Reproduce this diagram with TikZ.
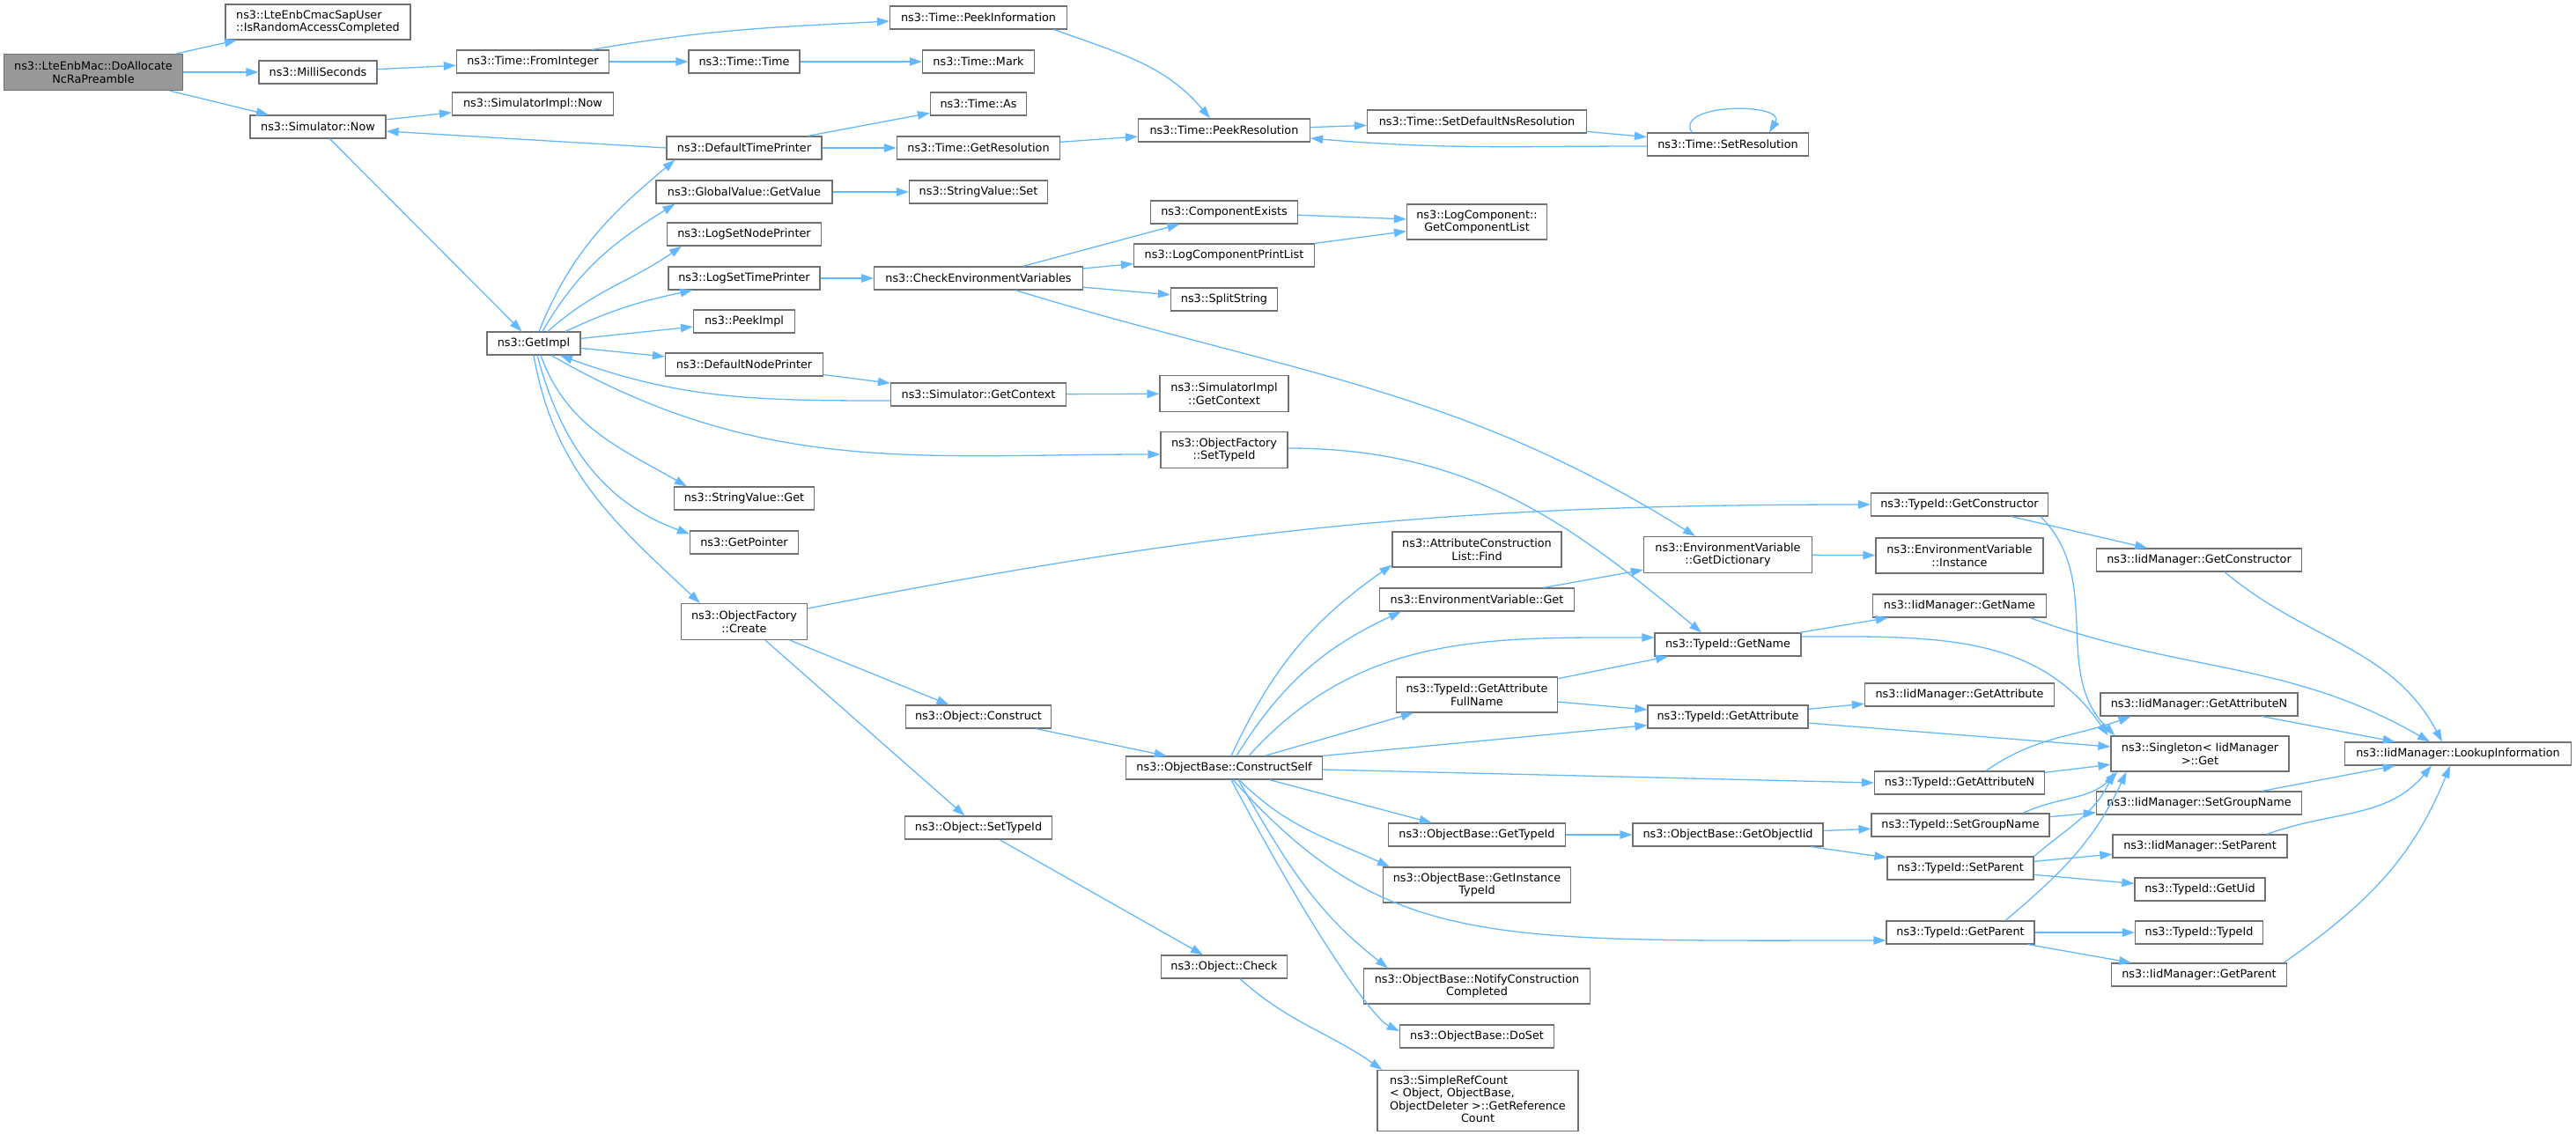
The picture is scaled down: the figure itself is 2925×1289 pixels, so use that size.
\documentclass[tikz,border=0pt]{standalone}
\usepackage{fontspec}
\setmainfont{DejaVu Sans}
\usetikzlibrary{arrows.meta,topaths}
\definecolor{edgeblue}{HTML}{63B8FF}
\definecolor{boxline}{HTML}{707070}
\definecolor{rootfill}{HTML}{999999}
\begin{document}
\begin{tikzpicture}[x=1pt, y=-1pt, font=\fontsize{12.8}{14.5}\selectfont,
    func/.style={draw=boxline, fill=white, line width=1.2pt, rectangle, align=center,
        inner xsep=6pt, inner ysep=2pt, minimum height=26, minimum width=#1},
    rootfunc/.style={func=#1, fill=rootfill},
    call/.style={draw=edgeblue, line width=1.3pt, -{Triangle[length=14pt,width=9.5pt]}}]
    \useasboundingbox (0,0) rectangle (2925,1289);

    % first columns
    \node[rootfunc=203, minimum height=41] (root) at (106,82) {ns3::LteEnbMac::DoAllocate\\NcRaPreamble};
    \node[func=210, minimum height=40, align=left] (israc) at (361,25) {ns3::LteEnbCmacSapUser\\::IsRandomAccessCompleted};
    \node[func=134] (milli) at (361,82) {ns3::MilliSeconds};
    \node[func=154] (simnow) at (361,144) {ns3::Simulator::Now};
    \node[func=173] (fromint) at (605,70) {ns3::Time::FromInteger};
    \node[func=183] (simimplnow) at (605,118) {ns3::SimulatorImpl::Now};
    \node[func=106] (getimpl) at (606,390) {ns3::GetImpl};

    % callees of GetImpl
    \node[func=126] (timetime) at (845,70) {ns3::Time::Time};
    \node[func=176] (deftp) at (845,168) {ns3::DefaultTimePrinter};
    \node[func=200] (gvget) at (845,218) {ns3::GlobalValue::GetValue};
    \node[func=175] (lsnp) at (845,266) {ns3::LogSetNodePrinter};
    \node[func=172] (lstp) at (845,316) {ns3::LogSetTimePrinter};
    \node[func=115] (peekimpl) at (845,365) {ns3::PeekImpl};
    \node[func=179] (defnp) at (845,414) {ns3::DefaultNodePrinter};
    \node[func=159] (svget) at (845,566) {ns3::StringValue::Get};
    \node[func=123] (getptr) at (845,616) {ns3::GetPointer};
    \node[func=143, minimum height=41] (ofcreate) at (845,706) {ns3::ObjectFactory\\::Create};

    \node[func=201] (peekinfo) at (1111,20) {ns3::Time::PeekInformation};
    \node[func=127] (timemark) at (1111,70) {ns3::Time::Mark};
    \node[func=109] (timeas) at (1111,118) {ns3::Time::As};
    \node[func=185] (getres) at (1111,168) {ns3::Time::GetResolution};
    \node[func=157] (svset) at (1111,218) {ns3::StringValue::Set};
    \node[func=237] (checkenv) at (1111,316) {ns3::CheckEnvironmentVariables};
    \node[func=199] (simgetctx) at (1111,448) {ns3::Simulator::GetContext};
    \node[func=165] (objconstruct) at (1111,814) {ns3::Object::Construct};
    \node[func=167] (objsettid) at (1111,940) {ns3::Object::SetTypeId};

    \node[func=195] (peekres) at (1390,148) {ns3::Time::PeekResolution};
    \node[func=167] (compexists) at (1390,241) {ns3::ComponentExists};
    \node[func=205] (lcpl) at (1390,290) {ns3::LogComponentPrintList};
    \node[func=121] (splitstr) at (1390,340) {ns3::SplitString};
    \node[func=146, minimum height=41] (simimplctx) at (1390,447) {ns3::SimulatorImpl\\::GetContext};
    \node[func=144, minimum height=41] (ofsettid) at (1390,511) {ns3::ObjectFactory\\::SetTypeId};
    \node[func=223] (constructself) at (1390,872) {ns3::ObjectBase::ConstructSelf};
    \node[func=143] (objcheck) at (1390,1098) {ns3::Object::Check};

    % ConstructSelf and friends
    \node[func=249] (setdefns) at (1677,138) {ns3::Time::SetDefaultNsResolution};
    \node[func=159, minimum height=40] (getcomplist) at (1677,252) {ns3::LogComponent::\\GetComponentList};
    \node[func=192, minimum height=40] (acfind) at (1677,624) {ns3::AttributeConstruction\\List::Find};
    \node[func=221] (evget) at (1677,681) {ns3::EnvironmentVariable::Get};
    \node[func=183, minimum height=40] (tidgafn) at (1677,789) {ns3::TypeId::GetAttribute\\FullName};
    \node[func=201] (obgettid) at (1677,948) {ns3::ObjectBase::GetTypeId};
    \node[func=213, minimum height=40] (obgetinst) at (1677,1005) {ns3::ObjectBase::GetInstance\\TypeId};
    \node[func=257, minimum height=40] (notify) at (1677,1120) {ns3::ObjectBase::NotifyConstruction\\Completed};
    \node[func=175] (doset) at (1677,1177) {ns3::ObjectBase::DoSet};
    \node[func=228, minimum height=69] (simpleref) at (1678,1250) {\begin{tabular}{@{}l@{}}ns3::SimpleRefCount\\< Object, ObjectBase,\\ ObjectDeleter >::GetReference\\\multicolumn{1}{@{}c@{}}{Count}\end{tabular}};

    \node[func=183] (setres) at (1962,164) {ns3::Time::SetResolution};
    \node[func=191, minimum height=41] (evgetdict) at (1962,630) {ns3::EnvironmentVariable\\::GetDictionary};
    \node[func=166] (tidgetname) at (1962,732) {ns3::TypeId::GetName};
    \node[func=182] (tidgetattr) at (1962,814) {ns3::TypeId::GetAttribute};
    \node[func=216] (obgetiid) at (1962,948) {ns3::ObjectBase::GetObjectIid};

    % TypeId and IidManager
    \node[func=201] (tidgetctor) at (2225,573) {ns3::TypeId::GetConstructor};
    \node[func=190, minimum height=40] (evinst) at (2225,631) {ns3::EnvironmentVariable\\::Instance};
    \node[func=197] (iidgetname) at (2225,688) {ns3::IidManager::GetName};
    \node[func=215] (iidgetattr) at (2225,789) {ns3::IidManager::GetAttribute};
    \node[func=193] (tidgetattrn) at (2225,889) {ns3::TypeId::GetAttributeN};
    \node[func=202] (tidsetgroup) at (2226,937) {ns3::TypeId::SetGroupName};
    \node[func=166] (tidsetparent) at (2226,986) {ns3::TypeId::SetParent};
    \node[func=168] (tidgetparent) at (2226,1059) {ns3::TypeId::GetParent};

    \node[func=233] (iidgetctor) at (2497,636) {ns3::IidManager::GetConstructor};
    \node[func=224] (iidgetattrn) at (2497,800) {ns3::IidManager::GetAttributeN};
    \node[func=202, minimum height=40] (singleton) at (2498,856) {ns3::Singleton< IidManager\\ >::Get};
    \node[func=233] (iidsetgroup) at (2497,912) {ns3::IidManager::SetGroupName};
    \node[func=198] (iidsetparent) at (2498,961) {ns3::IidManager::SetParent};
    \node[func=148] (tidgetuid) at (2498,1010) {ns3::TypeId::GetUid};
    \node[func=145] (tidtypeid) at (2497,1059) {ns3::TypeId::TypeId};
    \node[func=199] (iidgetparent) at (2497,1107) {ns3::IidManager::GetParent};
    \node[func=257] (lookup) at (2791,856) {ns3::IidManager::LookupInformation};

    % calls of the root
    \draw[call] (root) -- (israc);
    \draw[call] (root) -- (milli);
    \draw[call] (root) -- (simnow);

    % time
    \draw[call] (milli) -- (fromint);
    \draw[call] ([xshift=-20pt]fromint.north east) to[out=10, in=183] ([yshift=-4pt]peekinfo.west);
    \draw[call] (fromint) -- (timetime);
    \draw[call] (timetime) -- (timemark);
    \draw[call] ([xshift=-15pt]peekinfo.south east) to[out=-20, in=130] ([xshift=-16pt]peekres.north);
    \draw[call] (simnow) -- (simimplnow);
    \draw[call] (simnow) -- (getimpl);
    \draw[call] (deftp.west) -- ([yshift=-5pt]simnow.east);
    \draw[call] (deftp) -- (timeas);
    \draw[call] (deftp) -- (getres);
    \draw[call] (getres) -- (peekres);
    \draw[call] (peekres) -- (setdefns);
    \draw[call] (setdefns) -- (setres);
    \draw[call] ([yshift=-2pt]setres.west) to[out=180, in=-5] ([yshift=-9pt]peekres.east);
    \draw[call] ([xshift=-41pt]setres.north) .. controls +(-20,-34) and +(20,-34) .. ([xshift=47pt]setres.north);

    % GetImpl
    \draw[call] ([xshift=6pt]getimpl.north) to[out=68, in=220] ([xshift=10pt]deftp.south west);
    \draw[call] ([xshift=10pt]getimpl.north) to[out=60, in=212] ([xshift=22pt]gvget.south west);
    \draw[call] ([xshift=16pt]getimpl.north) to[out=42, in=215] ([xshift=17pt]lsnp.south west);
    \draw[call] ([xshift=36pt]getimpl.north) to[out=25, in=192] ([xshift=28pt]lstp.south west);
    \draw[call] (getimpl) -- (peekimpl);
    \draw[call] (getimpl) -- (defnp);
    \draw[call] (defnp) -- (simgetctx);
    \draw[call] ([yshift=-7pt]simgetctx.west) to[out=180, in=-20] ([xshift=30pt]getimpl.south);
    \draw[call] (simgetctx) -- (simimplctx);
    \draw[call] ([xshift=20pt]getimpl.south) to[out=-30, in=180] ([yshift=-5pt]ofsettid.west);
    \draw[call] ([yshift=2pt]ofsettid.east) to[out=0, in=140] ([xshift=-30pt]tidgetname.north);
    \draw[call] ([xshift=8pt]getimpl.south) to[out=-70, in=150] ([xshift=15pt]svget.north west);
    \draw[call] ([xshift=4pt]getimpl.south) to[out=-75, in=160] ([yshift=-4pt]getptr.north west);
    \draw[call] (getimpl.south) to[out=-80, in=137] ([xshift=22pt]ofcreate.north west);

    % log and environment
    \draw[call] (gvget) -- (svset);
    \draw[call] (lstp) -- (checkenv);
    \draw[call] (checkenv) -- (compexists);
    \draw[call] (checkenv) -- (lcpl);
    \draw[call] (checkenv) -- (splitstr);
    \draw[call] ([xshift=42pt]checkenv.south) to[out=-17, in=148] ([xshift=-37pt]evgetdict.north);
    \draw[call] (compexists) -- (getcomplist);
    \draw[call] (lcpl) -- (getcomplist);

    % objects
    \draw[call] ([yshift=15pt]ofcreate.east) .. controls +(466,-91) and +(-475,0) .. (tidgetctor.west);
    \draw[call] (ofcreate) -- (objconstruct);
    \draw[call] (ofcreate) -- (objsettid);
    \draw[call] (objsettid) -- (objcheck);
    \draw[call] ([xshift=18pt]objcheck.south) to[out=-42, in=145] ([xshift=6pt]simpleref.north west);
    \draw[call] (objconstruct) -- (constructself);

    % ConstructSelf
    \draw[call] ([xshift=8pt]constructself.north) to[out=65, in=215] ([yshift=3pt]acfind.south west);
    \draw[call] ([xshift=14pt]constructself.north) to[out=58, in=205] ([xshift=25pt]evget.south west);
    \draw[call] ([xshift=28pt]constructself.north) to[out=48, in=180] ([yshift=8pt]tidgetname.west);
    \draw[call] ([xshift=46pt]constructself.north) -- ([xshift=20pt]tidgafn.south west);
    \draw[call] (constructself.north east) -- ([yshift=4pt]tidgetattr.south west);
    \draw[call] ([yshift=-2pt]constructself.east) -- (tidgetattrn.west);
    \draw[call] (constructself) -- (obgettid);
    \draw[call] ([xshift=17pt]constructself.south) to[out=-45, in=155] ([xshift=8pt]obgetinst.north west);
    \draw[call] ([xshift=10pt]constructself.south) .. controls +(174,193) and +(-450,0) .. ([yshift=-9pt]tidgetparent.west);
    \draw[call] ([xshift=16pt]constructself.south) to[out=-60, in=142] ([xshift=28pt]notify.north west);
    \draw[call] ([xshift=8pt]constructself.south) .. controls +(103,194) and +(-27,-13) .. ([yshift=6pt]doset.west);

    % TypeId and IidManager
    \draw[call] (tidgetctor) -- (iidgetctor);
    \draw[call] ([xshift=92pt]tidgetctor.south) to[out=-45, in=135] ([xshift=5pt]singleton.north west);
    \draw[call] ([xshift=29pt]iidgetctor.south) to[out=-40, in=118] ([xshift=-18pt]lookup.north);
    \draw[call] (evgetdict) -- (evinst);
    \draw[call] (evget) -- (evgetdict);
    \draw[call] (tidgetname) -- (iidgetname);
    \draw[call] ([yshift=9pt]tidgetname.east) to[out=0, in=124] ([xshift=-3pt]singleton.north west);
    \draw[call] ([xshift=80pt]iidgetname.south) to[out=-20, in=150] ([xshift=-32pt]lookup.north);
    \draw[call] (tidgafn) -- (tidgetname);
    \draw[call] (tidgafn) -- (tidgetattr);
    \draw[call] (tidgetattr) -- (iidgetattr);
    \draw[call] (tidgetattr) -- (singleton);
    \draw[call] (iidgetattrn) -- (lookup);
    \draw[call] ([xshift=30pt]tidgetattrn.north) to[out=35, in=200] ([xshift=35pt]iidgetattrn.south west);
    \draw[call] (tidgetattrn) -- (singleton);
    \draw[call] (iidsetgroup) -- (lookup);
    \draw[call] (tidsetgroup) -- (iidsetgroup);
    \draw[call] ([xshift=71pt]tidsetgroup.north) to[out=25, in=225] ([xshift=8pt]singleton.south west);
    \draw[call] ([xshift=76pt]iidsetparent.north) to[out=20, in=230] ([xshift=-30pt]lookup.south);
    \draw[call] (tidsetparent) -- (iidsetparent);
    \draw[call] (tidsetparent) -- (tidgetuid);
    \draw[call] (tidsetparent.north east) to[out=40, in=245] ([xshift=4pt]singleton.south west);
    \draw[call] (tidgetparent) -- (tidtypeid);
    \draw[call] (tidgetparent) -- (iidgetparent);
    \draw[call] ([xshift=51pt]tidgetparent.north) to[out=40, in=245] ([xshift=18pt]singleton.south west);
    \draw[call] ([xshift=96pt]iidgetparent.north) to[out=35, in=248] ([xshift=-9pt]lookup.south);
    \draw[call] (obgettid) -- (obgetiid);
    \draw[call] (obgetiid) -- (tidsetgroup);
    \draw[call] (obgetiid) -- (tidsetparent);
\end{tikzpicture}
\end{document}
